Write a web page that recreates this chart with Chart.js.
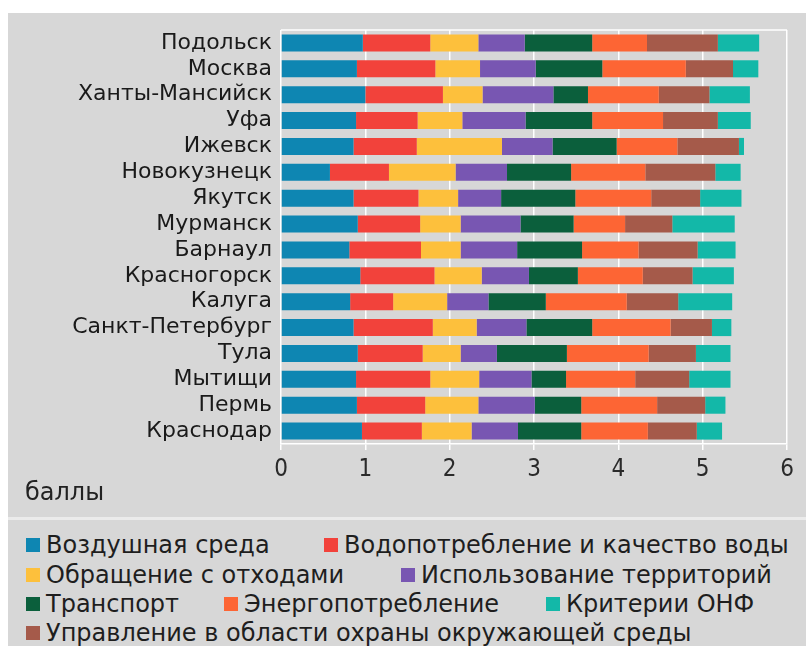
<!DOCTYPE html>
<html>
<head>
<meta charset="utf-8">
<script src="https://cdn.jsdelivr.net/npm/chart.js@4.4.1/dist/chart.umd.min.js"></script>
<style>
  html, body { margin: 0; padding: 0; background: #fff; }
  body { width: 806px; height: 646px; position: relative; overflow: hidden; }
  #panel { position: absolute; left: 8px; top: 13px; width: 798px; height: 504px; background: #d7d7d7; }
  #sep { position: absolute; left: 8px; top: 517px; width: 798px; height: 3px; background: #ebebeb; }
  #legendBox { position: absolute; left: 8px; top: 520px; width: 798px; height: 126px; background: #d7d7d7; }
  #unit { position: absolute; left: 25px; top: 478px; font: 24px "DejaVu Sans", sans-serif; color: #222; }
  .litem { position: absolute; white-space: nowrap; font: 24px/29px "DejaVu Sans", sans-serif; color: #1e1e1e; }
  .lbox { display: inline-block; width: 14px; height: 14px; margin-right: 6px; vertical-align: 1px; }
</style>
</head>
<body>
<div id="panel"><canvas id="c" width="798" height="504"></canvas></div>
<div id="unit">баллы</div>
<div id="sep"></div>
<div id="legendBox"></div>
<script>
// города (сверху вниз)
var cities = ['Подольск', 'Москва', 'Ханты-Мансийск', 'Уфа', 'Ижевск', 'Новокузнецк', 'Якутск', 'Мурманск',
              'Барнаул', 'Красногорск', 'Калуга', 'Санкт-Петербург', 'Тула', 'Мытищи', 'Пермь', 'Краснодар'];
var xTicks = [0, 1, 2, 3, 4, 5, 6];

// баллы по критериям
var air       = [0.97, 0.90, 1.00, 0.89, 0.86, 0.58, 0.86, 0.91, 0.81, 0.94, 0.82, 0.86, 0.91, 0.89, 0.90, 0.96];
var water     = [0.80, 0.93, 0.92, 0.73, 0.75, 0.70, 0.77, 0.74, 0.85, 0.88, 0.51, 0.94, 0.77, 0.88, 0.81, 0.71];
var waste     = [0.57, 0.53, 0.47, 0.53, 1.01, 0.79, 0.47, 0.48, 0.47, 0.56, 0.64, 0.52, 0.45, 0.58, 0.63, 0.59];
var land      = [0.55, 0.66, 0.84, 0.75, 0.60, 0.61, 0.51, 0.71, 0.67, 0.56, 0.49, 0.59, 0.43, 0.62, 0.67, 0.55];
var transport = [0.80, 0.79, 0.41, 0.79, 0.76, 0.76, 0.88, 0.63, 0.77, 0.58, 0.68, 0.78, 0.83, 0.41, 0.55, 0.75];
var energy    = [0.65, 0.99, 0.84, 0.84, 0.72, 0.88, 0.90, 0.61, 0.67, 0.77, 0.96, 0.93, 0.97, 0.82, 0.90, 0.79];
var mgmt      = [0.84, 0.56, 0.60, 0.65, 0.73, 0.83, 0.58, 0.56, 0.70, 0.59, 0.61, 0.49, 0.56, 0.64, 0.57, 0.58];
var onf       = [0.49, 0.30, 0.48, 0.39, 0.06, 0.30, 0.49, 0.74, 0.45, 0.49, 0.64, 0.23, 0.41, 0.49, 0.24, 0.30];

var seriesNames = ['Воздушная среда', 'Водопотребление и качество воды', 'Обращение с отходами',
                   'Использование территорий', 'Транспорт', 'Энергопотребление', 'Критерии ОНФ',
                   'Управление в области охраны окружающей среды'];

var COLORS = {
  air: '#0e86b2', water: '#f2423b', waste: '#fdc03c', land: '#7856b2',
  transport: '#0b5f3c', energy: '#fd6534', mgmt: '#a55a4a', onf: '#13b8a8'
};

// порядок сегментов в полосе
var stackOrder = [
  { name: seriesNames[0], data: air, color: COLORS.air },
  { name: seriesNames[1], data: water, color: COLORS.water },
  { name: seriesNames[2], data: waste, color: COLORS.waste },
  { name: seriesNames[3], data: land, color: COLORS.land },
  { name: seriesNames[4], data: transport, color: COLORS.transport },
  { name: seriesNames[5], data: energy, color: COLORS.energy },
  { name: seriesNames[7], data: mgmt, color: COLORS.mgmt },
  { name: seriesNames[6], data: onf, color: COLORS.onf }
];

var datasets = [];
for (var i = 0; i < stackOrder.length; i++) {
  datasets.push({
    label: stackOrder[i].name,
    data: stackOrder[i].data,
    backgroundColor: stackOrder[i].color,
    borderWidth: 0,
    barPercentage: 0.66,
    categoryPercentage: 1.0
  });
}

var framePlugin = {
  id: 'frame',
  beforeDatasetsDraw: function(chart) {
    var a = chart.chartArea, ctx = chart.ctx;
    ctx.save();
    ctx.strokeStyle = '#ffffff';
    ctx.lineWidth = 1.5;
    ctx.beginPath();
    ctx.moveTo(a.left, a.top);
    ctx.lineTo(a.right, a.top);
    ctx.stroke();
    ctx.restore();
  }
};

new Chart(document.getElementById('c'), {
  type: 'bar',
  data: { labels: cities, datasets: datasets },
  plugins: [framePlugin],
  options: {
    indexAxis: 'y',
    responsive: false,
    animation: false,
    layout: { padding: { top: 17, right: 19, bottom: 0, left: 0 } },
    plugins: { legend: { display: false }, tooltip: { enabled: false } },
    scales: {
      x: {
        stacked: true,
        min: 0, max: 6,
        afterBuildTicks: function(s) { s.ticks = xTicks.map(function(v) { return { value: v }; }); },
        afterFit: function(s) { s.height = 73; },
        ticks: { color: '#2a2a2a', padding: 5, font: { family: '"DejaVu Sans Condensed", "DejaVu Sans", sans-serif', size: 24 } },
        grid: { color: '#ffffff', lineWidth: 1.5, tickLength: 6 },
        border: { color: '#ffffff', width: 1.5 }
      },
      y: {
        stacked: true,
        afterFit: function(s) { s.width = 273; s.paddingTop = 0; s.paddingBottom = 0; },
        ticks: { color: '#1a1a1a', padding: 9, autoSkip: false, font: { family: '"DejaVu Sans", sans-serif', size: 22 } },
        grid: { display: false, drawTicks: false },
        border: { display: false }
      }
    }
  }
});

// легенда: [индекс серии, x, y]
var legendPos = [
  [0, 26, 531], [1, 324, 531],
  [2, 26, 561], [3, 401, 561],
  [4, 26, 590], [5, 224, 590], [6, 546, 590],
  [7, 26, 619]
];
var legendColors = [COLORS.air, COLORS.water, COLORS.waste, COLORS.land, COLORS.transport, COLORS.energy, COLORS.onf, COLORS.mgmt];
for (var r = 0; r < legendPos.length; r++) {
  var idx = legendPos[r][0];
  var it = document.createElement('div');
  it.className = 'litem';
  it.style.left = legendPos[r][1] + 'px';
  it.style.top = legendPos[r][2] + 'px';
  it.innerHTML = '<span class="lbox" style="background:' + legendColors[idx] + '"></span>' + seriesNames[idx];
  document.body.appendChild(it);
}
</script>
</body>
</html>
